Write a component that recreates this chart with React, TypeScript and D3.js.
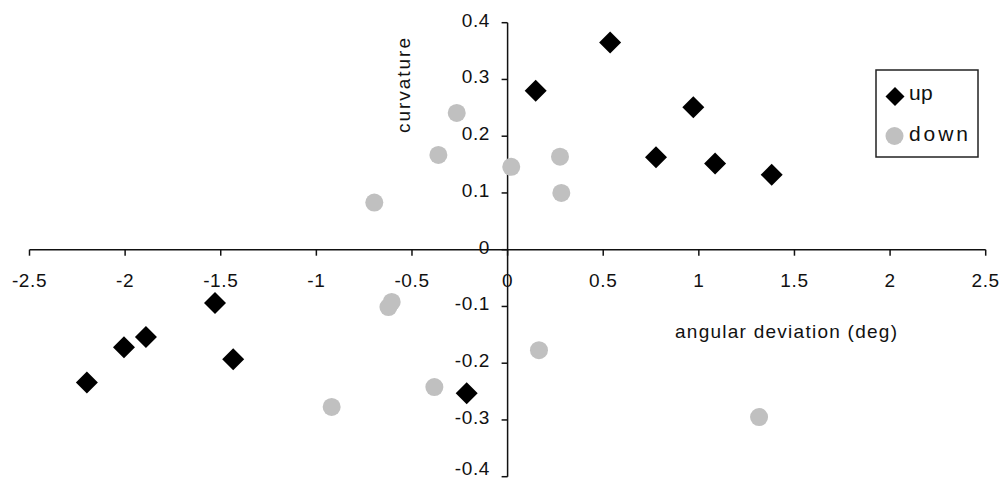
import React from "react";
import * as d3 from "d3";

const upX = [-2.2, -2.006, -1.891, -1.53, -1.435, -0.214, 0.147, 0.536, 0.971, 0.776, 1.085, 1.381];
const upY = [-0.234, -0.172, -0.154, -0.094, -0.193, -0.253, 0.28, 0.365, 0.251, 0.163, 0.152, 0.132];
const downX = [-0.266, -0.362, -0.697, 0.019, 0.274, 0.281, -0.623, -0.606, -0.383, -0.92, 0.164, 1.315];
const downY = [0.241, 0.167, 0.083, 0.146, 0.164, 0.1, -0.101, -0.092, -0.242, -0.277, -0.177, -0.295];
const xTicks = [-2.5, -2, -1.5, -1, -0.5, 0, 0.5, 1, 1.5, 2, 2.5];
const yTicks = [0.4, 0.3, 0.2, 0.1, 0, -0.1, -0.2, -0.3, -0.4];
const seriesNames = ["up", "down"];
const xTitle = "angular deviation (deg)";
const yTitle = "curvature";

const W = 1000;
const H = 481;
const FONT = "'Liberation Sans', Arial, Helvetica, sans-serif";

export default function App() {
  const x = d3.scaleLinear().domain([-2.5, 2.5]).range([29.5, 985.7]);
  const y = d3.scaleLinear().domain([-0.4, 0.4]).range([476.7, 22.7]);
  const x0 = x(0);
  const y0 = y(0);
  const diamond = (cx: number, cy: number, r: number) =>
    `M${cx},${cy - r}L${cx + r},${cy}L${cx},${cy + r}L${cx - r},${cy}Z`;
  const ink = "#111";
  return (
    <svg width={W} height={H} style={{ position: "absolute", left: 0, top: 0, background: "#fff" }}
      fontFamily={FONT}>
      <rect x={0} y={0} width={W} height={H} fill="#fff" />
      {/* x axis */}
      <line x1={x(-2.5)} x2={x(2.5)} y1={y0} y2={y0} stroke={ink} strokeWidth={1.5} />
      {xTicks.map((t) => (
        <g key={"xt" + t}>
          <line x1={x(t)} x2={x(t)} y1={y0} y2={y0 + 6} stroke={ink} strokeWidth={1.5} />
          <text x={x(t)} y={287} textAnchor="middle" fontSize={19} letterSpacing={0.6} fill={ink}>
            {String(t)}
          </text>
        </g>
      ))}
      {/* y axis */}
      <line x1={x0} x2={x0} y1={y(0.4)} y2={y(-0.4)} stroke={ink} strokeWidth={1.5} />
      {yTicks.map((t) => (
        <g key={"yt" + t}>
          <line x1={x0 - 6} x2={x0} y1={y(t)} y2={y(t)} stroke={ink} strokeWidth={1.5} />
          <text x={490} y={Math.min(y(t) + 4, 475)} textAnchor="end" fontSize={19} letterSpacing={0.6} fill={ink}>
            {String(t)}
          </text>
        </g>
      ))}
      {/* titles */}
      <text x={675} y={338} fontSize={19} textLength={222} lengthAdjust="spacing" fill={ink}>
        {xTitle}
      </text>
      <text transform={`translate(410,85.5) rotate(-90)`} textAnchor="middle" fontSize={19}
        textLength={95} lengthAdjust="spacing" fill={ink}>
        {yTitle}
      </text>
      {/* down series */}
      {downX.map((v, i) => (
        <circle key={"d" + i} cx={x(v)} cy={y(downY[i])} r={9} fill="#c0c0c0" />
      ))}
      {/* up series */}
      {upX.map((v, i) => (
        <path key={"u" + i} d={diamond(x(v), y(upY[i]), 11)} fill="#000" />
      ))}
      {/* legend */}
      <rect x={876} y={70} width={102} height={87} fill="#fff" stroke="#222" strokeWidth={1.5} />
      <path d={diamond(895, 96.5, 9.5)} fill="#000" />
      <text x={909} y={99.5} fontSize={21} letterSpacing={0.3} fill={ink}>{seriesNames[0]}</text>
      <circle cx={894.5} cy={136} r={9} fill="#c0c0c0" />
      <text x={909} y={141} fontSize={21} textLength={59} lengthAdjust="spacing" fill={ink}>{seriesNames[1]}</text>
    </svg>
  );
}
